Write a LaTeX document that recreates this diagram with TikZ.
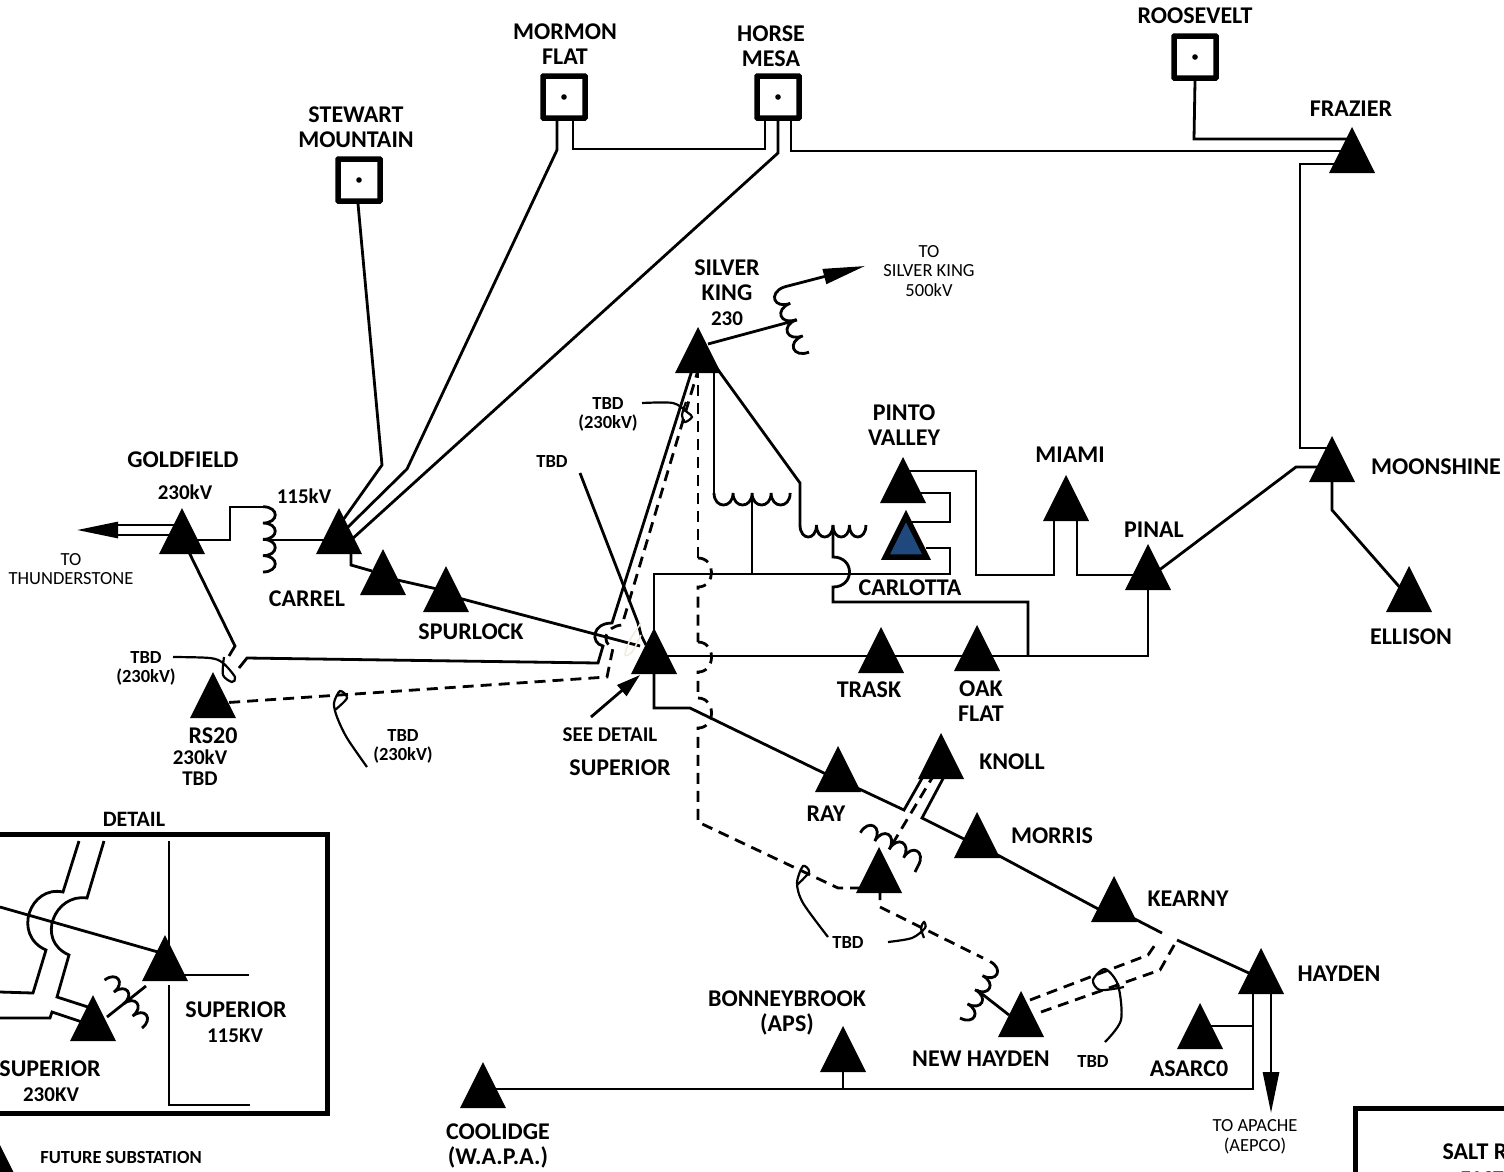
\documentclass[tikz,border=0pt]{standalone}
\usepackage{fontspec}
\setmainfont{Carlito}
\usetikzlibrary{calc}
\usetikzlibrary{shapes.geometric}
\usetikzlibrary{arrows.meta}
\definecolor{carlottablue}{HTML}{1F497D}
\definecolor{ghost}{HTML}{EFEBDD}
\tikzset{
    wire/.style={line width=2.8pt, line join=miter},
    dashwire/.style={wire, dash pattern=on 11pt off 7pt},
    leader/.style={line width=2.2pt},
    substation/.style={isosceles triangle, isosceles triangle apex angle=53, isosceles triangle stretches,
        shape border rotate=90, fill=black, inner sep=0pt, outer sep=0pt,
        minimum width=46pt, minimum height=46pt, anchor=apex},
    generator/.style={draw, line width=5.5pt, rounded corners=0.5pt, minimum size=42pt, inner sep=0pt},
    bigname/.style={font=\bfseries\fontsize{24}{25.5}\selectfont, align=center},
    midname/.style={font=\bfseries\fontsize{21}{21}\selectfont, align=center},
    smallname/.style={font=\bfseries\fontsize{18.5}{19}\selectfont, align=center},
    thinname/.style={font=\fontsize{18.5}{19.5}\selectfont, align=center},
    coil/.pic={\draw[wire] (0,0) .. controls (0,16) and (16,16) .. (16,0)
        .. controls (16,16) and (32,16) .. (32,0)
        .. controls (32,16) and (48,16) .. (48,0)
        .. controls (48,16) and (64,16) .. (64,0);}
}
\begin{document}
\begin{tikzpicture}[x=1pt,y=-1pt]
    \path[use as bounding box, clip] (0,0) rectangle (1504,1171);
    % substations
    \node[substation] (goldfield) at (182,508) {};
    \node[substation] (carrel) at (339,508) {};
    \node[substation] (carrelsub) at (383,549) {};
    \node[substation] (spurlock) at (446,566) {};
    \node[substation] (superior) at (654,628) {};
    \node[substation] (silverking) at (698,327) {};
    \node[substation] (trask) at (881,627) {};
    \node[substation] (oakflat) at (977,625) {};
    \node[substation] (pintovalley) at (903,457) {};
    \node[substation, fill=carlottablue, draw=black, line width=5.5pt, minimum width=41pt, minimum height=41pt] (carlotta) at (906,516) {};
    \node[substation] (miami) at (1066,475) {};
    \node[substation] (pinal) at (1148,544) {};
    \node[substation] (moonshine) at (1332,436) {};
    \node[substation] (ellison) at (1409,566) {};
    \node[substation] (frazier) at (1352,127) {};
    \node[substation] (ray) at (838,746) {};
    \node[substation] (knoll) at (941,733) {};
    \node[substation] (morris) at (977,812) {};
    \node[substation] (kearny) at (1114,876) {};
    \node[substation] (hayden) at (1261,948) {};
    \node[substation] (asarco) at (1200,1003) {};
    \node[substation] (newhayden) at (1021,991) {};
    \node[substation] (raysub) at (879,847) {};
    \node[substation] (bonneybrook) at (843,1026) {};
    \node[substation] (coolidge) at (483,1062) {};
    \node[substation] (rstwenty) at (213,672) {};
    \node[substation] (detailhigh) at (165,935) {};
    \node[substation] (detaillow) at (93,995) {};
    \node[substation] (future) at (-1,1143) {};
    % generating stations
    \node[generator] (stewart) at (359,180) {};
    \node[generator] (mormon) at (564,97) {};
    \node[generator] (horse) at (778,97) {};
    \node[generator] (roosevelt) at (1195,57) {};
    \fill (stewart) circle (2.8pt);
    \fill (mormon) circle (2.8pt);
    \fill (horse) circle (2.8pt);
    \fill (roosevelt) circle (2.8pt);
    % free ends and taps
    \coordinate (thunderstone) at (77,530);
    \coordinate (apache) at (1271,1113);
    \coordinate (silverkingend) at (865,266);
    \coordinate (goldtap) at (263,540);
    \coordinate (tapone) at (752,493);
    \coordinate (taptwo) at (833,525);
    \coordinate (skstart) at (784,287);
    \coordinate (sktap) at (797,320);
    \coordinate (haydentap) at (977,990);
    \coordinate (raytap) at (890,848);
    % transformers
    \pic[rotate=90, scale=1.02] at (263,572) {coil};
    \pic[xscale=1.19] at (714,493) {coil};
    \pic[xscale=1.03] at (800,525) {coil};
    \pic[rotate=-69, scale=1.09] at (skstart) {coil};
    \pic[rotate=150, scale=1.04] at (918,866) {coil};
    \pic[rotate=62, scale=1] at (960,1018) {coil};
    \pic[rotate=128, scale=0.95] at (142,1028) {coil};
    % west side
    \draw[wire] (goldfield.apex) ++(0,17) -- (118,525);
    \draw[wire] (goldfield.apex) ++(0,27) -- (118,535);
    \draw[-{Stealth[inset=0pt,length=41pt,width=16pt]}, wire] (118,530) -- (thunderstone);
    \draw[wire] (goldfield.apex) ++(0,32) -- (230,540) -- (230,507) -- (263,507);
    \draw[wire] (goldtap) -- (carrel.apex |- goldtap);
    \draw[wire] (goldfield.apex) ++(0,30) -- (235,646) -- (229,656);
    \draw[wire] (carrel.apex) ++(12,40) -- (351,565) -- (372,571);
    \draw[wire] (carrelsub.apex) ++(10,30) -- ($(spurlock.apex)+(0,25)$);
    \draw[wire] (spurlock.apex) ++(5,30) -- (640,646);
    \draw[wire] (silverking.apex) ++(-5,40) -- (612,623) .. controls (592,623) and (590,643) .. (603,646) -- (598,663) -- (247,658) -- (239,668);
    \draw[dashwire] (silverking.apex) ++(1,40) -- (622,625) .. controls (606,626) and (600,642) .. (613,648) -- (607,677) -- ($(rstwenty.apex)+(8,31)$);
    \draw[wire] (580,473) -- (638,623) -- (641,635) -- ($(superior.apex)+(-8,17)$);
    % hydro plants
    \draw[wire] (stewart.south) ++(-1,0) -- (382,465) -- ($(carrel.apex)+(4,12)$);
    \draw[wire] (mormon.south) ++(-7,0) -- (557,150) -- (407,469) -- ($(carrel.apex)+(8,20)$);
    \draw[wire] (mormon.south) ++(9,0) -- (573,149) -- (765,149) -- ($(horse.south)+(-13,0)$);
    \draw[wire] (horse.south) -- (778,153) -- ($(carrel.apex)+(12,32)$);
    \draw[wire] (horse.south) ++(13,0) -- (791,151) -- ($(frazier.apex)+(-5,24)$);
    \draw[wire] (roosevelt.south) -- (1194,139) -- ($(frazier.apex)+(-5,12)$);
    \draw[wire] (frazier.apex) ++(-10,37) -- (1300,164) -- (1300,448) -- ($(moonshine.apex)+(-4,12)$);
    \draw[wire] (moonshine.apex) ++(-14,31) -- (1296,467) -- ($(pinal.apex)+(6,30)$);
    \draw[wire] (moonshine.apex) ++(0,40) -- (1332,510) -- ($(ellison.apex)+(-6,25)$);
    % silver king
    \draw[wire] (silverking.apex) ++(10,17) -- (sktap);
    \draw[-{Stealth[inset=0pt,length=42pt,width=15pt]}, wire] (skstart) -- (silverkingend);
    \draw[wire] (silverking.apex) ++(16,40) -- (714,493);
    \draw[wire] (tapone) -- (752,574);
    \draw[wire] (silverking.apex) ++(18,40) -- (800,483) -- (800,525);
    \draw[wire] (taptwo) -- (833,557) .. controls (855,557) and (855,587) .. (833,587) -- (833,602) -- (1028,602) -- (1028,656);
    % middle
    \draw[wire] (superior.apex) ++(0,10) -- (654,574) -- (950,574) -- (950,548) -- ($(carlotta.apex)+(20,32)$);
    \draw[wire] (pintovalley.apex) ++(15,36) -- (950,493) -- (950,522) -- ($(carlotta.apex)+(5,6)$);
    \draw[wire] (pintovalley.apex) ++(6,14) -- (976,471) -- (976,575) -- (1054,575) -- ($(miami.apex)+(-12,40)$);
    \draw[wire] (miami.apex) ++(11,40) -- (1077,575) -- ($(pinal.apex)+(-14,31)$);
    \draw[wire] (superior.apex) ++(0,28) -- ($(trask.apex)+(0,29)$);
    \draw[wire] (trask.apex) ++(0,29) -- ($(oakflat.apex)+(0,31)$);
    \draw[wire] (oakflat.apex) ++(0,31) -- (1148,656) -- ($(pinal.apex)+(0,40)$);
    % south east
    \draw[wire] (superior.apex) ++(0,40) -- (654,708) -- (690,708) -- ($(ray.apex)+(-8,30)$);
    \draw[wire] (ray.apex) ++(15,40) -- (904,810) -- ($(knoll.apex)+(-16,40)$);
    \draw[wire] (knoll.apex) ++(5,40) -- (922,818) -- ($(morris.apex)+(-13,27)$);
    \draw[wire] (morris.apex) ++(15,40) -- ($(kearny.apex)+(-12,35)$);
    \draw[wire] (kearny.apex) ++(15,40) -- (1162,933);
    \draw[wire] (1177,940) -- ($(hayden.apex)+(-10,26)$);
    \draw[dashwire] (knoll.apex) ++(-6,40) -- (raytap);
    \draw[dashwire] (918,866) -- (915,872);
    \draw[wire] (hayden.apex) ++(-8,40) -- (1253,1089) -- ($(coolidge.apex)+(10,27)$);
    \draw[wire] (asarco.apex) ++(10,23) -- (1253,1026);
    \draw[wire] (bonneybrook.apex) ++(0,40) -- (843,1089);
    \draw[wire] (hayden.apex) ++(10,40) -- (1271,1072);
    \draw[-{Stealth[inset=0pt,length=41pt,width=16pt]}, wire] (1271,1072) -- (apache);
    % dashed future line
    \draw[dashwire] (silverking.apex) ++(0,40) -- (698,558);
    \draw[dashwire] (698,558) .. controls (716,558) and (716,587) .. (698,587) -- (698,642);
    \draw[dashwire] (698,642) .. controls (716,642) and (716,672) .. (698,672) -- (698,698);
    \draw[dashwire] (698,698) .. controls (716,698) and (716,728) .. (698,728) -- (698,822) -- (838,888) -- ($(raysub.apex)+(-14,41)$);
    \draw[dashwire] (raysub.apex) ++(1,42) -- (880,907) -- (983,958);
    \draw[wire] (haydentap) -- ($(newhayden.apex)+(-12,24)$);
    \draw[dashwire] (newhayden.apex) ++(9,9) -- (1148,955) -- (1157,942);
    \draw[dashwire] (newhayden.apex) ++(20,21) -- (1160,970) -- (1177,940);
    % see detail
    \draw[-{Stealth[inset=0pt,length=24pt,width=14pt]}, wire] (591,717) -- (640,675);
    % tbd loops
    \draw[leader] plot[smooth] coordinates {(173,657) (210,658) (223,663) (235,677) (232,682) (223,675) (224,657)};
    \draw[leader] plot[smooth] coordinates {(367,767) (347,738) (337,717) (334,703) (340,691) (347,698) (335,710)};
    \draw[leader] plot[smooth] coordinates {(642,403) (673,403) (687,412) (692,417) (685,422) (682,415) (686,402)};
    \draw[leader] plot[smooth] coordinates {(828,937) (803,903) (797,883) (803,866) (809,872) (797,885)};
    \draw[leader] plot[smooth] coordinates {(888,942) (912,938) (925,928) (924,922) (921,928) (924,938)};
    \draw[leader] plot[smooth] coordinates {(1105,1042) (1121,1020) (1118,985) (1105,969) (1093,980) (1100,990) (1124,987)};
    \draw[ghost, line width=1.5pt] plot[smooth] coordinates {(641,623) (630,640) (625,655) (632,652) (641,635)};
    % detail
    \draw[line width=5pt] (-10,834) -- (327,834) -- (327,1113) -- (-10,1113);
    \draw[wire] (79,841) -- (63,892) .. controls (30,885) and (12,935) .. (46,950) -- (33,993) -- (0,992);
    \draw[wire] (104,841) -- (87,898) .. controls (55,893) and (35,940) .. (69,955) -- (57,997) -- ($(detaillow.apex)+(-5,12)$);
    \draw[wire] (0,1018) -- (50,1018) -- (52,1012) -- ($(detaillow.apex)+(-11,27)$);
    \draw[wire] (0,907) -- ($(detailhigh.apex)+(-7,17)$);
    \draw[wire] (169,841) -- ($(detailhigh.apex)+(4,12)$);
    \draw[wire] (detailhigh.apex) ++(10,40) -- (249,975);
    \draw[wire] (detailhigh.apex) ++(4,50) -- (169,1105) -- (250,1105);
    \draw[wire] (146,986) -- (107,1017);
    % legend box
    \draw[line width=5pt] (1355,1180) -- (1355,1108) -- (1520,1108);
    % labels
    \node[bigname] (lroosevelt) at (1195,16) {ROOSEVELT};
    \node[bigname] (lmormon) at (565,44) {MORMON\\FLAT};
    \node[bigname] (lhorse) at (771,46) {HORSE\\MESA};
    \node[bigname] (lstewart) at (356,127) {STEWART\\MOUNTAIN};
    \node[bigname] (lfrazier) at (1351,109) {FRAZIER};
    \node[bigname] (lsilver) at (727,280) {SILVER\\KING};
    \node[midname] (lsilverkv) at (727,319) {230};
    \node[thinname] (lsilverend) at (929,271) {TO\\SILVER KING\\500kV};
    \node[bigname] (lpinto) at (904,425) {PINTO\\VALLEY};
    \node[bigname] (lmiami) at (1070,455) {MIAMI};
    \node[bigname] (lpinal) at (1154,530) {PINAL};
    \node[bigname] (lmoonshine) at (1436,467) {MOONSHINE};
    \node[bigname] (lellison) at (1411,637) {ELLISON};
    \node[bigname] (lgoldfield) at (183,460) {GOLDFIELD};
    \node[midname] (lgoldkv) at (185,492) {230kV};
    \node[midname] (lcarrelkv) at (304,496) {115kV};
    \node[thinname] (lthunder) at (71,569) {TO\\THUNDERSTONE};
    \node[bigname] (lcarrel) at (307,599) {CARREL};
    \node[bigname] (lspurlock) at (471,632) {SPURLOCK};
    \node[bigname] (lcarlotta) at (910,588) {CARLOTTA};
    \node[bigname] (ltrask) at (869,690) {TRASK};
    \node[bigname] (loak) at (981,701) {OAK\\FLAT};
    \node[smallname] (ltbda) at (146,668) {TBD\\(230kV)};
    \node[bigname] (lrs) at (213,736) {RS20};
    \node[midname] (lrskv) at (200,768) {230kV\\TBD};
    \node[smallname] (ltbdb) at (552,461) {TBD};
    \node[smallname] (ltbdc) at (608,414) {TBD\\(230kV)};
    \node[smallname] (ltbdd) at (403,746) {TBD\\(230kV)};
    \node[font=\bfseries\fontsize{21}{21}\selectfont] (lsee) at (610,735) {SEE DETAIL};
    \node[bigname] (lsuperior) at (620,768) {SUPERIOR};
    \node[bigname] (lknoll) at (1012,762) {KNOLL};
    \node[bigname] (lray) at (826,814) {RAY};
    \node[bigname] (lmorris) at (1052,836) {MORRIS};
    \node[bigname] (lkearny) at (1188,899) {KEARNY};
    \node[bigname] (lhayden) at (1339,974) {HAYDEN};
    \node[bigname] (lbonney) at (787,1013) {BONNEYBROOK\\(APS)};
    \node[bigname] (lnew) at (981,1059) {NEW HAYDEN};
    \node[smallname] (ltbde) at (1093,1061) {TBD};
    \node[smallname] (ltbdf) at (848,942) {TBD};
    \node[bigname] (lasarco) at (1189,1069) {ASARC0};
    \node[bigname] (lcoolidge) at (498,1146) {COOLIDGE\\(W.A.P.A.)};
    \node[thinname] (lapache) at (1255,1137) {TO APACHE\\(AEPCO)};
    \node[font=\bfseries\fontsize{22}{22}\selectfont] (ldetail) at (134,819) {DETAIL};
    \node[bigname] (ldetailhigh) at (236,1010) {SUPERIOR};
    \node[midname] (ldetailhighkv) at (235,1036) {115KV};
    \node[bigname] (ldetaillow) at (50,1069) {SUPERIOR};
    \node[midname] (ldetaillowkv) at (51,1095) {230KV};
    \node[smallname] (lfuture) at (121,1157) {FUTURE SUBSTATION};
    \node[bigname, anchor=west] (lsalt) at (1439,1152) {SALT RIVER};
    \node[midname, anchor=west] (lsaltb) at (1457,1179) {EAST VALLEY};
\end{tikzpicture}
\end{document}
